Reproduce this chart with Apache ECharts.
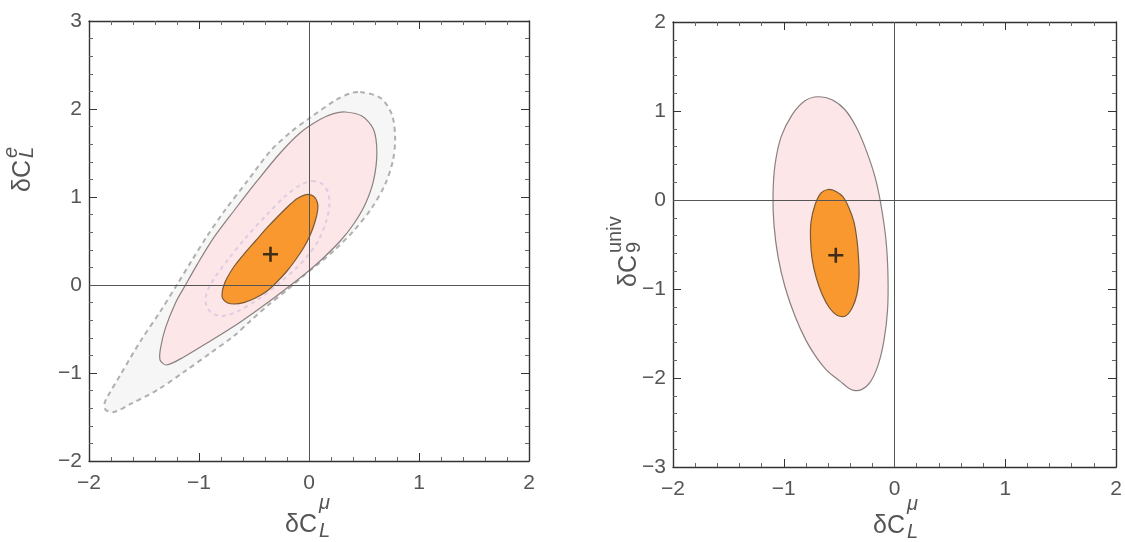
<!DOCTYPE html>
<html>
<head>
<meta charset="utf-8">
<title>contours</title>
<script src="https://cdn.jsdelivr.net/npm/echarts@6/dist/echarts.min.js"></script>
<style>
  html, body { margin: 0; padding: 0; background: #fff; }
  #chart { width: 1125px; height: 542px; }
</style>
</head>
<body>
<div id="chart"></div>
<script>
// axis ranges
var xRange = [-2, 2]
var yRangeLeft = [-2, 3]
var yRangeRight = [-3, 2]

// left panel: dC_L^mu vs dC_L^e
var outerDashedLeft = [
  [0.466, 2.193], [0.647, 2.128], [0.753, 1.940], [0.783, 1.674], [0.762, 1.409],
  [0.692, 1.144], [0.572, 0.878], [0.405, 0.614], [0.223, 0.386], [0.084, 0.239],
  [-0.052, 0.102], [-0.188, -0.045], [-0.369, -0.227], [-0.533, -0.409], [-0.684, -0.580],
  [-0.896, -0.773], [-1.138, -0.989], [-1.379, -1.193], [-1.622, -1.352], [-1.773, -1.443],
  [-1.848, -1.420], [-1.858, -1.341], [-1.833, -1.273], [-1.712, -1.015], [-1.531, -0.636],
  [-1.349, -0.295], [-1.198, 0.008], [-1.068, 0.273], [-0.932, 0.545], [-0.769, 0.841],
  [-0.560, 1.182], [-0.351, 1.523], [-0.170, 1.733], [0.012, 1.903], [0.254, 2.110],
  [0.380, 2.180]
]
var pinkLeft = [
  [0.329, 1.966], [0.481, 1.920], [0.586, 1.769], [0.617, 1.503], [0.586, 1.182],
  [0.511, 0.917], [0.405, 0.690], [0.284, 0.500], [0.132, 0.310], [-0.004, 0.159],
  [-0.170, -0.006], [-0.381, -0.205], [-0.623, -0.420], [-0.896, -0.636], [-1.138, -0.818],
  [-1.295, -0.909], [-1.354, -0.852], [-1.349, -0.713], [-1.304, -0.485], [-1.213, -0.201],
  [-1.123, 0], [-1.016, 0.235], [-0.866, 0.538], [-0.684, 0.841], [-0.472, 1.182],
  [-0.260, 1.503], [-0.079, 1.731], [0.103, 1.883], [0.223, 1.947]
]
var innerDashedLeft = [
  [0.030, 1.182], [0.121, 1.148], [0.175, 1.045], [0.184, 0.898], [0.157, 0.727],
  [0.093, 0.523], [-0.006, 0.341], [-0.124, 0.182], [-0.279, 0.011], [-0.460, -0.159],
  [-0.641, -0.295], [-0.787, -0.352], [-0.896, -0.307], [-0.941, -0.193], [-0.923, -0.068],
  [-0.859, 0.080], [-0.732, 0.295], [-0.569, 0.545], [-0.387, 0.795], [-0.215, 1.011],
  [-0.079, 1.136]
]
var orangeLeft = [
  [-0.025, 1.028], [0.039, 1.011], [0.075, 0.943], [0.080, 0.864], [0.057, 0.727],
  [0.007, 0.557], [-0.049, 0.424], [-0.120, 0.290], [-0.200, 0.159], [-0.292, 0.034],
  [-0.381, -0.068], [-0.487, -0.148], [-0.593, -0.201], [-0.678, -0.216], [-0.744, -0.201],
  [-0.787, -0.148], [-0.789, -0.080], [-0.773, 0], [-0.744, 0.083], [-0.678, 0.216],
  [-0.593, 0.349], [-0.487, 0.500], [-0.381, 0.651], [-0.279, 0.784], [-0.170, 0.917],
  [-0.106, 0.983]
]
var bestFitLeft = [[-0.35, 0.35]]

// right panel: dC_L^mu vs dC_9^univ
var pinkRight = [
  [-0.690, 1.160], [-0.564, 1.126], [-0.447, 1.014], [-0.347, 0.822], [-0.257, 0.563],
  [-0.176, 0.259], [-0.122, -0.056], [-0.077, -0.450], [-0.059, -0.845], [-0.063, -1.239],
  [-0.095, -1.577], [-0.149, -1.858], [-0.221, -2.050], [-0.293, -2.128], [-0.366, -2.140],
  [-0.429, -2.100], [-0.492, -2.035], [-0.555, -1.975], [-0.618, -1.905], [-0.699, -1.779],
  [-0.799, -1.577], [-0.898, -1.306], [-0.988, -0.980], [-1.051, -0.642], [-1.088, -0.282],
  [-1.097, 0.056], [-1.079, 0.394], [-1.024, 0.709], [-0.925, 0.957], [-0.808, 1.115]
]
var orangeRight = [
  [-0.600, 0.118], [-0.528, 0.096], [-0.465, 0.034], [-0.411, -0.090], [-0.366, -0.248],
  [-0.339, -0.450], [-0.325, -0.653], [-0.320, -0.856], [-0.339, -1.059], [-0.384, -1.216],
  [-0.447, -1.306], [-0.519, -1.295], [-0.591, -1.205], [-0.654, -1.059], [-0.708, -0.867],
  [-0.745, -0.653], [-0.758, -0.450], [-0.754, -0.248], [-0.718, -0.056], [-0.663, 0.079]
]
var bestFitRight = [[-0.53, -0.62]]

var chart = echarts.init(document.getElementById('chart'))

var FONT = 'Liberation Sans'
var TXT = '#555'
var FRAME = '#333'

function minus(v) {
  return v < 0 ? '\u2212' + Math.abs(v) : String(v)
}

function frameAxis(gridIndex, position, range, showLabel, isX) {
  return {
    type: 'value',
    gridIndex: gridIndex,
    position: position,
    min: range[0],
    max: range[1],
    interval: 1,
    axisLine: { show: true, onZero: false, lineStyle: { color: FRAME, width: 1.4 } },
    axisTick: { show: true, inside: true, length: 8, lineStyle: { color: FRAME, width: 1 } },
    minorTick: { show: true, splitNumber: 5, length: 4, lineStyle: { color: '#666', width: 1 } },
    splitLine: { show: false },
    axisLabel: {
      show: showLabel,
      color: TXT,
      fontFamily: FONT,
      fontSize: 21,
      margin: isX ? 12 : 7,
      formatter: minus
    }
  }
}

// closed contour drawn as one smoothed polygon through the library's coordinates
function region(pts, xi, yi, style, z) {
  return {
    type: 'custom',
    xAxisIndex: xi,
    yAxisIndex: yi,
    data: pts,
    z: z,
    silent: true,
    renderItem: function (params, api) {
      if (params.dataIndex !== 0) return
      return {
        type: 'polygon',
        shape: { points: pts.map(function (p) { return api.coord(p) }), smooth: 0.3 },
        style: style
      }
    }
  }
}

function crossSeries(pts, xi, yi) {
  return {
    type: 'scatter',
    xAxisIndex: xi,
    yAxisIndex: yi,
    data: pts,
    z: 10,
    silent: true,
    symbol: 'path://M5.8,0h2.4v5.8h5.8v2.4h-5.8v5.8h-2.4v-5.8h-5.8v-2.4h5.8z',
    symbolSize: 15,
    itemStyle: { color: '#111' },
    markLine: {
      silent: true,
      symbol: 'none',
      label: { show: false },
      lineStyle: { color: '#555', width: 1, type: 'solid' },
      data: [{ xAxis: 0 }, { yAxis: 0 }]
    }
  }
}

function titleGroup(x, y, rot, main, sup, sub, italicScripts, supDy, subDy) {
  var big = 25, small = 20
  var scriptFont = (italicScripts ? 'italic ' : '') + small + 'px "' + FONT + '"'
  return {
    type: 'group',
    x: x,
    y: y,
    rotation: rot,
    silent: true,
    children: [
      { type: 'text', x: 0, y: 0, style: { text: main, font: big + 'px "' + FONT + '"', fill: TXT, verticalAlign: 'bottom' } },
      { type: 'text', x: 34, y: supDy, style: { text: sup, font: scriptFont, fill: TXT, verticalAlign: 'bottom' } },
      { type: 'text', x: 34, y: subDy, style: { text: sub, font: scriptFont, fill: TXT, verticalAlign: 'bottom' } }
    ]
  }
}

var dashedGray = { fill: '#f6f6f6', stroke: '#b0b0b0', lineWidth: 2, lineDash: [5, 4] }
var pinkStyle = { fill: '#fde6e7', stroke: '#8a8080', lineWidth: 1.2 }
var innerStyle = { fill: 'none', stroke: '#ddcde2', lineWidth: 2, lineDash: [4, 4] }
var orangeStyle = { fill: '#f8982f', stroke: '#7a5a35', lineWidth: 1.2 }

chart.setOption({
  animation: false,
  backgroundColor: '#fff',
  grid: [
    { left: 89, top: 21, width: 440, height: 440 },
    { left: 673, top: 22, width: 443, height: 445 }
  ],
  xAxis: [
    frameAxis(0, 'bottom', xRange, true, true),
    frameAxis(0, 'top', xRange, false, true),
    frameAxis(1, 'bottom', xRange, true, true),
    frameAxis(1, 'top', xRange, false, true)
  ],
  yAxis: [
    frameAxis(0, 'left', yRangeLeft, true, false),
    frameAxis(0, 'right', yRangeLeft, false, false),
    frameAxis(1, 'left', yRangeRight, true, false),
    frameAxis(1, 'right', yRangeRight, false, false)
  ],
  series: [
    region(outerDashedLeft, 0, 0, dashedGray, 1),
    region(pinkLeft, 0, 0, pinkStyle, 2),
    region(innerDashedLeft, 0, 0, innerStyle, 3),
    region(orangeLeft, 0, 0, orangeStyle, 4),
    crossSeries(bestFitLeft, 0, 0),
    region(pinkRight, 2, 2, pinkStyle, 2),
    region(orangeRight, 2, 2, orangeStyle, 4),
    crossSeries(bestFitRight, 2, 2)
  ],
  graphic: [
    titleGroup(285, 538, 0, '\u03b4C', '\u03bc', 'L', true, -25, 3),
    titleGroup(873, 539, 0, '\u03b4C', '\u03bc', 'L', true, -25, 3),
    titleGroup(36, 192, Math.PI / 2, '\u03b4C', 'e', 'L', true, -15, 1),
    titleGroup(642, 287, Math.PI / 2, '\u03b4C', 'univ', '9', false, -17, 2)
  ]
})
</script>
</body>
</html>
